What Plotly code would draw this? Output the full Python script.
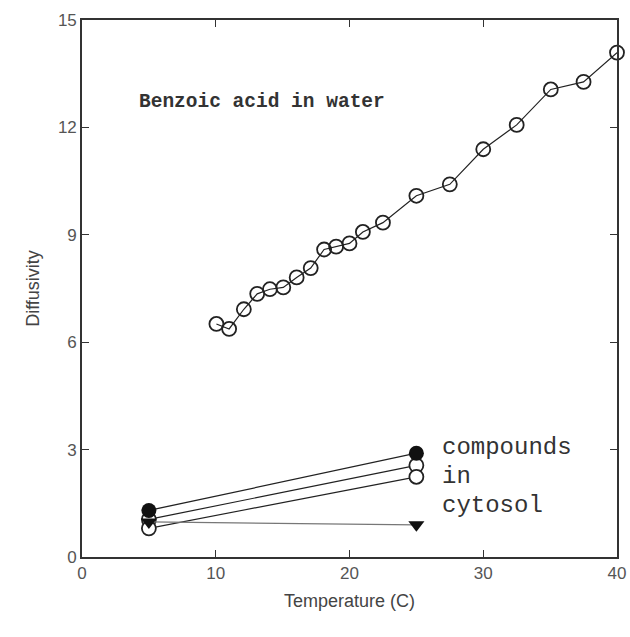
import plotly.graph_objects as go

# Benzoic acid in water
water_T = [10.05, 11.0, 12.1, 13.1, 14.05, 15.05, 16.05, 17.1, 18.1, 19.0, 20.0, 21.0, 22.5, 25.0, 27.5, 30.0, 32.5, 35.05, 37.5, 40.0]
water_D = [6.51, 6.37, 6.92, 7.35, 7.48, 7.53, 7.81, 8.07, 8.59, 8.67, 8.76, 9.08, 9.34, 10.09, 10.41, 11.39, 12.07, 13.06, 13.27, 14.09]

# Compounds in cytosol
cyt_T = [5, 25]
cyt_filled = [1.3, 2.9]
cyt_open_a = [1.05, 2.56]
cyt_open_b = [0.8, 2.24]
cyt_triangle = [0.98, 0.9]

x_ticks = [0, 10, 20, 30, 40]
y_ticks = [0, 3, 6, 9, 12, 15]

fig = go.Figure()

line_col = "#222"

fig.add_trace(go.Scatter(x=water_T, y=water_D, mode="lines+markers",
                         line=dict(color=line_col, width=1.2),
                         marker=dict(symbol="circle-open", size=14, color=line_col, line=dict(width=1.8)),
                         cliponaxis=False, showlegend=False))

fig.add_trace(go.Scatter(x=cyt_T, y=cyt_open_a, mode="lines+markers",
                         line=dict(color=line_col, width=1.2),
                         marker=dict(symbol="circle", size=14, color="white", line=dict(width=1.8, color=line_col)),
                         cliponaxis=False, showlegend=False))
fig.add_trace(go.Scatter(x=cyt_T, y=cyt_open_b, mode="lines+markers",
                         line=dict(color=line_col, width=1.2),
                         marker=dict(symbol="circle", size=14, color="white", line=dict(width=1.8, color=line_col)),
                         cliponaxis=False, showlegend=False))
fig.add_trace(go.Scatter(x=cyt_T, y=cyt_triangle, mode="lines+markers",
                         line=dict(color="#777", width=1.2),
                         marker=dict(symbol="triangle-down", size=14, color="#111"),
                         cliponaxis=False, showlegend=False))
fig.add_trace(go.Scatter(x=cyt_T, y=cyt_filled, mode="lines+markers",
                         line=dict(color=line_col, width=1.2),
                         marker=dict(symbol="circle", size=15, color="#111"),
                         cliponaxis=False, showlegend=False))

fig.add_annotation(x=4.1, y=12.7, xref="x", yref="y", text="<b>Benzoic acid in water</b>",
                   showarrow=False, xanchor="left", yanchor="middle",
                   font=dict(family="Liberation Mono", size=19.5, color="#333"))
for txt, yv in [("compounds", 3.07), ("in", 2.25), ("cytosol", 1.45)]:
    fig.add_annotation(x=26.8, y=yv, xref="x", yref="y", text=txt,
                       showarrow=False, xanchor="left", yanchor="middle",
                       font=dict(family="Liberation Mono", size=24, color="#333"))

axis_common = dict(showgrid=False, zeroline=False, showline=True, linecolor="#333", linewidth=1.6,
                   mirror="ticks", ticks="inside", ticklen=7, tickwidth=1.2, tickcolor="#333",
                   automargin=False,
                   tickfont=dict(family="Liberation Sans", size=17, color="#555"))

fig.update_xaxes(range=[0, 40], tickvals=x_ticks,
                 title=dict(text="Temperature (C)", font=dict(family="Liberation Sans", size=18, color="#444"), standoff=12),
                 **axis_common)
fig.update_yaxes(range=[0, 15], tickvals=y_ticks,
                 title=dict(text="Diffusivity", font=dict(family="Liberation Sans", size=18, color="#444"), standoff=14),
                 **axis_common)

fig.update_layout(width=630, height=637, margin=dict(l=82, r=13, t=20, b=80),
                  plot_bgcolor="white", paper_bgcolor="white")

fig.write_html("out.html")
